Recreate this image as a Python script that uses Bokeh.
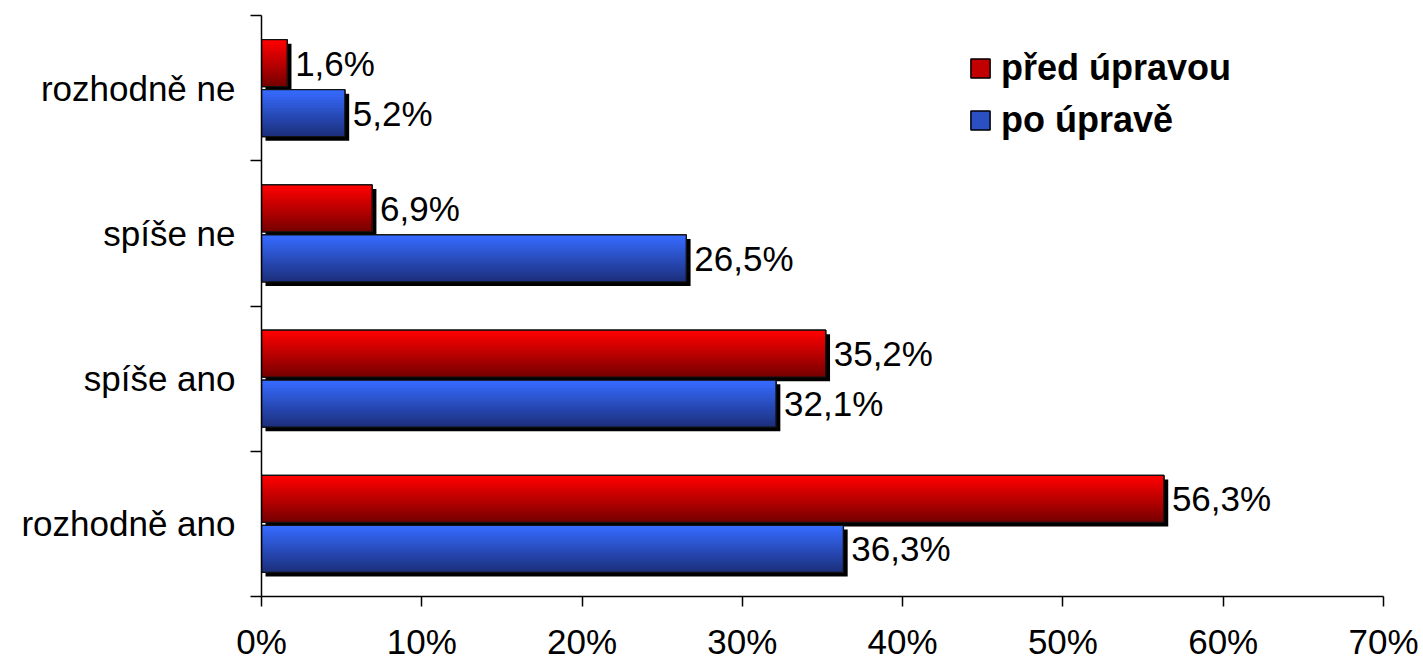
from bokeh.plotting import figure
from bokeh.models import (ColumnDataSource, FixedTicker, Legend, LegendItem,
                          Range1d, PrintfTickFormatter)
from bokeh.transform import dodge
from bokeh.core.properties import value
from bokeh.embed import file_html
from bokeh.resources import INLINE

# ---- data ----
categories = ["rozhodně ano", "spíše ano", "spíše ne", "rozhodně ne"]
pred_upravou = [56.3, 35.2, 6.9, 1.6]
po_uprave = [36.3, 32.1, 26.5, 5.2]
series_names = ["před úpravou", "po úpravě"]
x_ticks = [0, 10, 20, 30, 40, 50, 60, 70]


def fmt(v):
    return f"{v:.1f}".replace(".", ",") + "%"


src = ColumnDataSource(dict(
    y=[i + 0.5 for i in range(len(categories))],
    pred=pred_upravou,
    po=po_uprave,
    pred_lbl=[fmt(v) for v in pred_upravou],
    po_lbl=[fmt(v) for v in po_uprave],
))

FONT = "Liberation Sans"
FS = "35px"

p = figure(width=1423, height=663, x_range=Range1d(0, 70), y_range=Range1d(0, 4),
           output_backend="svg", toolbar_location=None,
           min_border_left=261, min_border_right=40,
           min_border_top=15, min_border_bottom=66)
p.outline_line_color = None
p.grid.visible = False
p.background_fill_color = "white"
p.border_fill_color = "white"

BAR_H = 0.323
N = 18


def rgb_hex(c):
    return "#%02x%02x%02x" % tuple(int(round(v)) for v in c)


def lerp(a, b, t):
    return tuple(a[k] + (b[k] - a[k]) * t for k in range(3))


specs = [
    ("pred", "pred_lbl", 0.172, (255, 0, 0), (120, 0, 0)),
    ("po", "po_lbl", -0.172, (54, 106, 255), (28, 48, 125)),
]

legend_renderers = []
for field, lbl, off, top_c, bot_c in specs:
    # shadow
    p.hbar(y=dodge("y", off - 0.028), left=0.25, right=dodge(field, 0.27),
           height=BAR_H, source=src, fill_color="black", line_color=None)
    # base bar (used for legend)
    base = p.hbar(y=dodge("y", off), left=0, right=field, height=BAR_H, source=src,
                  fill_color=rgb_hex(lerp(top_c, bot_c, 0.45)),
                  line_color="black", line_width=1.5)
    legend_renderers.append(base)
    # gradient layers
    for i in range(N):
        t = i / (N - 1)
        h = BAR_H * (N - i) / N
        center = off - BAR_H / 2 + h / 2
        p.hbar(y=dodge("y", center), left=0, right=field, height=h, source=src,
               fill_color=rgb_hex(lerp(top_c, bot_c, t)), line_color=None)
    # outline
    p.hbar(y=dodge("y", off), left=0, right=field, height=BAR_H, source=src,
           fill_color=None, line_color="#111111", line_width=1.3)
    # value labels
    p.text(x=field, y=dodge("y", off), text=lbl, source=src, x_offset=8,
           text_baseline="middle", text_align="left",
           text_font=value(FONT), text_font_size=FS, text_color="black")

# x axis
xa = p.xaxis[0]
xa.ticker = FixedTicker(ticks=x_ticks, minor_ticks=[])
xa.formatter = PrintfTickFormatter(format="%d%%")
xa.major_tick_out = 10
xa.major_tick_in = 0
xa.axis_line_width = 1.5
xa.major_tick_line_width = 1.5
xa.major_label_standoff = 15
xa.major_label_text_font = FONT
xa.major_label_text_font_size = FS
xa.major_label_text_color = "black"

# y axis
ya = p.yaxis[0]
ya.ticker = FixedTicker(ticks=[i + 0.5 for i in range(len(categories))],
                        minor_ticks=list(range(len(categories) + 1)))
ya.major_label_overrides = {i + 0.5: c for i, c in enumerate(categories)}
ya.major_tick_out = 0
ya.major_tick_in = 0
ya.minor_tick_out = 11
ya.minor_tick_in = 0
ya.minor_tick_line_color = "black"
ya.minor_tick_line_width = 1.5
ya.axis_line_width = 1.5
ya.major_label_standoff = 15
ya.major_label_text_font = FONT
ya.major_label_text_font_size = FS
ya.major_label_text_color = "black"

legend = Legend(items=[LegendItem(label=series_names[0], renderers=[legend_renderers[0]]),
                       LegendItem(label=series_names[1], renderers=[legend_renderers[1]])],
                location=(707, 455), padding=0, margin=0, spacing=10,
                glyph_width=24, glyph_height=24, label_height=40,
                label_standoff=9, border_line_color=None,
                background_fill_alpha=0,
                label_text_font=FONT, label_text_font_size="36px",
                label_text_font_style="bold", label_text_color="black")
p.add_layout(legend)

open("out.html", "w").write(file_html(p, INLINE))
